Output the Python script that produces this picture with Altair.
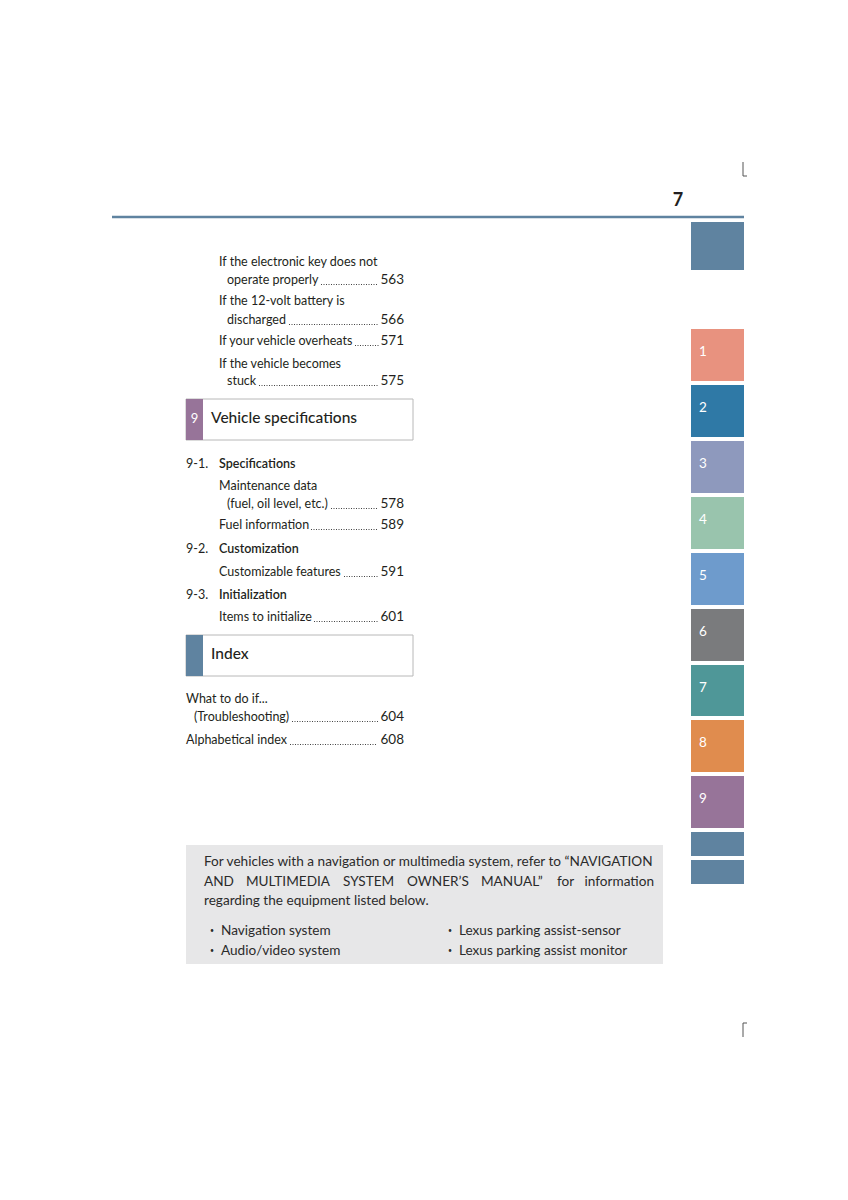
import altair as alt
import pandas as pd

FONT = "Lato, 'Noto Sans', sans-serif"
INK = "#231f20"
BLUE = "#5f83a0"

# ---------------- content ----------------
page_number = "7"

tab_labels = ["", "1", "2", "3", "4", "5", "6", "7", "8", "9", "", ""]
tab_colors = ["#5f83a0", "#e8927f", "#2f79a6", "#8e99bd", "#99c4ad", "#6e9bcc",
              "#7a7b7d", "#4f9798", "#e08c4e", "#977499", "#5f83a0", "#5f83a0"]
tab_top = [222, 329, 385, 441, 497, 553, 609, 665, 720, 776, 832, 860]
tab_bottom = [270, 381, 437, 493, 549, 605, 661, 716, 772, 828, 856, 884]

entry_text = [
    "If the electronic key does not", "operate properly",
    "If the 12-volt battery is", "discharged",
    "If your vehicle overheats",
    "If the vehicle becomes", "stuck",
    "Maintenance data", "(fuel, oil level, etc.)",
    "Fuel information",
    "Customizable features",
    "Items to initialize",
    "What to do if...", "(Troubleshooting)",
    "Alphabetical index",
]
entry_page = ["", "563", "", "566", "571", "", "575", "", "578", "589", "591", "601",
              "", "604", "608"]
entry_x = [219, 227, 219, 227, 219, 219, 227, 219, 227, 219, 219, 219, 186, 194, 186]
entry_y = [262, 280, 301, 320, 341, 364, 381, 486, 504, 525, 572, 617, 699, 717, 740]
leader_start = [None, 321, None, 289, 355, None, 259, None, 331, 311, 344, 314, None, 292, 290]
leader_end = [None, 378, None, 378, 380, None, 378, None, 378, 377, 379, 379, None, 378, 377]

sub_nums = ["9-1.", "9-2.", "9-3."]
sub_titles = ["Specifications", "Customization", "Initialization"]
sub_y = [464, 549, 595]

section_num = ["9", ""]
section_titles = ["Vehicle specifications", "Index"]
section_colors = ["#977499", BLUE]
section_top = [399, 635]
section_bottom = [440, 676]

note_line1 = "For vehicles with a navigation or multimedia system, refer to \u201cNAVIGATION"
note_line2_words = ["AND", "MULTIMEDIA", "SYSTEM", "OWNER\u2019S", "MANUAL\u201d", "for"]
note_line2_x = [204, 246, 343, 407, 481, 557]
note_line2_last = "information"
note_line3 = "regarding the equipment listed below."
bullets_left = ["Navigation system", "Audio/video system"]
bullets_right = ["Lexus parking assist-sensor", "Lexus parking assist monitor"]
bullet_y = [931, 951]

# ---------------- scales ----------------
XS = alt.Scale(domain=[8, 840], nice=False, zero=False)
YS = alt.Scale(domain=[8, 1192], reverse=True, nice=False, zero=False)


def X(f):
    return alt.X(f, type="quantitative", scale=XS, axis=None)


def Y(f):
    return alt.Y(f, type="quantitative", scale=YS, axis=None)


def text_layer(df, align="left", size=13, weight="normal", color=INK, baseline="middle"):
    return alt.Chart(df).mark_text(
        align=align, baseline=baseline, fontSize=size, fontWeight=weight,
        color=color, font=FONT
    ).encode(x=X("x"), y=Y("y"), text=alt.Text("text:N"))


layers = []

# top rule
layers.append(alt.Chart(pd.DataFrame({"x": [112], "x2": [744], "y": [217]}))
              .mark_rule(color=BLUE, strokeWidth=2.5)
              .encode(x=X("x"), x2="x2", y=Y("y")))

# crop marks
crop = pd.DataFrame({"x": [743, 743, 743, 743], "x2": [743, 747, 743, 747],
                     "y": [162, 176, 1023, 1023], "y2": [176, 176, 1037, 1023]})
layers.append(alt.Chart(crop).mark_rule(color="#555555", strokeWidth=1)
              .encode(x=X("x"), x2="x2", y=Y("y"), y2="y2"))

# page number
layers.append(text_layer(pd.DataFrame({"x": [678], "y": [201], "text": [page_number]}),
                         align="center", size=18, weight="bold"))

# tabs
tabs = pd.DataFrame({"x": [691] * len(tab_top), "x2": [744] * len(tab_top),
                     "y": tab_top, "y2": tab_bottom, "fill": tab_colors})
layers.append(alt.Chart(tabs).mark_rect().encode(
    x=X("x"), x2="x2", y=Y("y"), y2="y2", color=alt.Color("fill:N", scale=None)))
tab_text = pd.DataFrame({"x": [699] * len(tab_top),
                         "y": [t + 23 for t in tab_top], "text": tab_labels})
layers.append(text_layer(tab_text, size=13.5, color="white"))

# section header boxes
boxes = pd.DataFrame({"x": [186, 186], "x2": [413, 413], "y": section_top, "y2": section_bottom})
layers.append(alt.Chart(boxes).mark_rect(fill="white", stroke="#b8b8b8", strokeWidth=1)
              .encode(x=X("x"), x2="x2", y=Y("y"), y2="y2"))
bars = pd.DataFrame({"x": [186, 186], "x2": [203, 203], "y": section_top, "y2": section_bottom,
                     "fill": section_colors})
layers.append(alt.Chart(bars).mark_rect().encode(
    x=X("x"), x2="x2", y=Y("y"), y2="y2", color=alt.Color("fill:N", scale=None)))
layers.append(text_layer(pd.DataFrame({"x": [194.5, 194.5],
                                       "y": [(a + b) / 2 - 1 for a, b in zip(section_top, section_bottom)],
                                       "text": section_num}),
                         align="center", size=13, color="white"))
layers.append(text_layer(pd.DataFrame({"x": [211, 211],
                                       "y": [(a + b) / 2 - 2 for a, b in zip(section_top, section_bottom)],
                                       "text": section_titles}),
                         size=15.5, weight=500))

# subsection headings
layers.append(text_layer(pd.DataFrame({"x": [186] * 3, "y": sub_y, "text": sub_nums}), size=12.5))
layers.append(text_layer(pd.DataFrame({"x": [219] * 3, "y": sub_y, "text": sub_titles}),
                         size=12.5, weight=600))

# entries
layers.append(text_layer(pd.DataFrame({"x": entry_x, "y": entry_y, "text": entry_text}), size=12.5))
pages = pd.DataFrame({"x": [404] * len(entry_y), "y": entry_y, "text": entry_page})
layers.append(text_layer(pages, align="right", size=13.5))
lead = pd.DataFrame({"x": leader_start, "x2": leader_end,
                     "y": [y + 4.5 for y in entry_y]}).dropna()
layers.append(alt.Chart(lead).mark_rule(color="#444444", strokeWidth=1.1, strokeDash=[1, 1.5])
              .encode(x=X("x"), x2="x2", y=Y("y")))

# note box
layers.append(alt.Chart(pd.DataFrame({"x": [186], "x2": [663], "y": [845], "y2": [964]}))
              .mark_rect(fill="#e7e7e8").encode(x=X("x"), x2="x2", y=Y("y"), y2="y2"))
layers.append(text_layer(pd.DataFrame({"x": [204, 204], "y": [862, 901],
                                       "text": [note_line1, note_line3]}),
                         size=13.6, color="#2b2b2b"))
line2 = pd.DataFrame({"x": note_line2_x, "y": [882] * len(note_line2_x), "text": note_line2_words})
layers.append(text_layer(line2, size=13.6, color="#2b2b2b"))
layers.append(text_layer(pd.DataFrame({"x": [654], "y": [882], "text": [note_line2_last]}),
                         align="right", size=13.6, color="#2b2b2b"))
bl = pd.DataFrame({"x": [221, 221, 459, 459], "y": bullet_y + bullet_y,
                   "text": bullets_left + bullets_right})
layers.append(text_layer(bl, size=13.6, color="#2b2b2b"))
dots = pd.DataFrame({"x": [212, 212, 450, 450], "y": bullet_y + bullet_y, "text": ["\u2022"] * 4})
layers.append(text_layer(dots, align="center", size=7, color="#2b2b2b"))

chart = alt.layer(*layers).properties(
    width=832, height=1184, padding=0, autosize=alt.AutoSizeParams(type="none"),
    background="white"
).configure_view(stroke=None)

chart.save("out.html", embed_options={"renderer": "svg", "actions": False})
